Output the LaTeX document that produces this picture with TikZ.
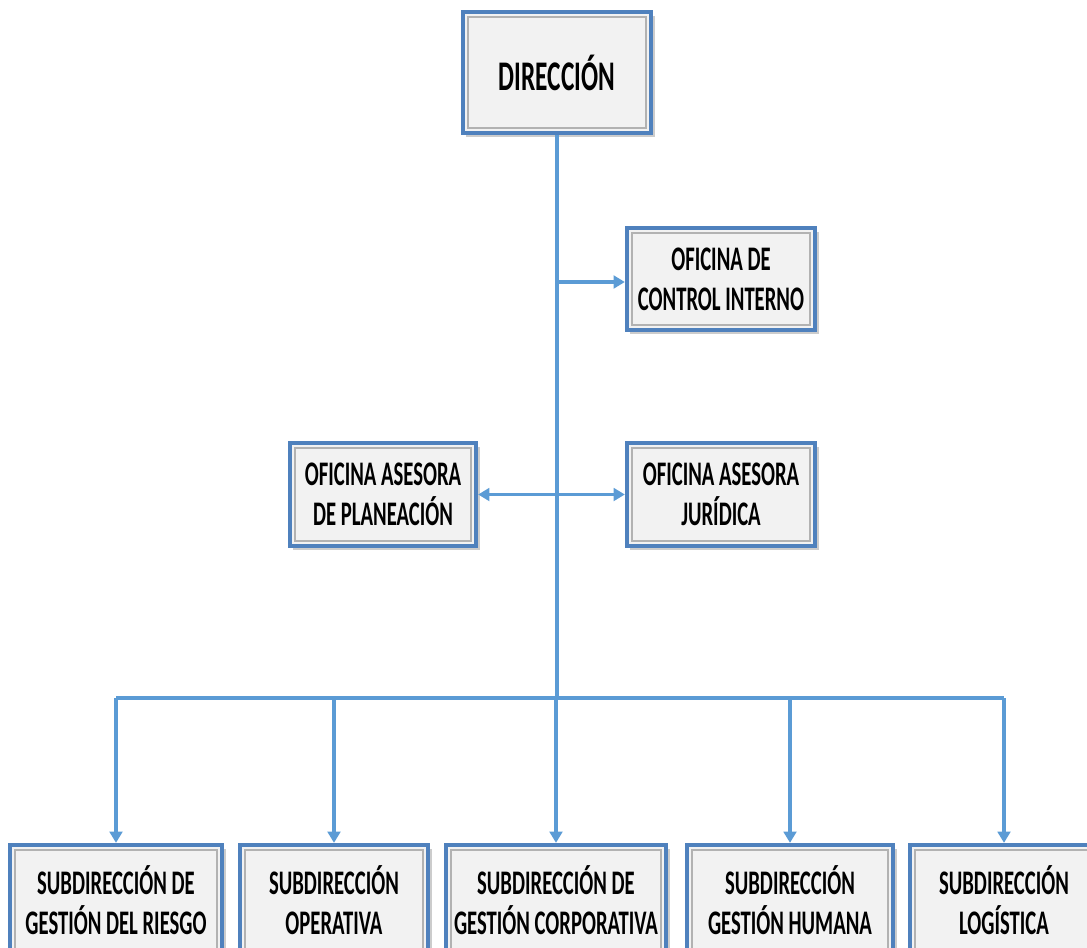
\documentclass[tikz,border=0pt]{standalone}
\usepackage{fontspec}
\setmainfont{Carlito}[FakeStretch=0.6]
\usetikzlibrary{arrows.meta,positioning,shadows}
\definecolor{boxblue}{HTML}{4F81BD}
\definecolor{boxgray}{HTML}{F2F2F2}
\definecolor{linkblue}{HTML}{5B9BD5}

\begin{document}
\begin{tikzpicture}[x=0.025cm, y=-0.025cm, font=\bfseries\fontsize{24.5}{28.5}\selectfont,
  box/.style={draw=boxblue, line width=3pt, fill=boxgray, align=center, minimum width=4.7cm, minimum height=2.575cm,
    drop shadow={shadow xshift=2.5pt, shadow yshift=-2.5pt, opacity=0.4},
    path picture={\draw[gray!60, line width=1.6pt] ([shift={(3.5pt,-3.5pt)}]path picture bounding box.north west) rectangle ([shift={(-3.5pt,3.5pt)}]path picture bounding box.south east);}},
  conn/.style={draw=linkblue, line width=2.8pt},
  tip/.style={-{Triangle[length=8pt, width=9pt]}}]
\useasboundingbox (0,0) rectangle (1087,948);
\clip (0,0) rectangle (1087,948);
\node[box, minimum height=3.025cm, font=\bfseries\fontsize{30}{36}\selectfont] (dir) at (557,72.5) {DIRECCIÓN};
\node[box, minimum height=2.55cm] (ctrl) at (721,279) {OFICINA DE\\CONTROL INTERNO};
\node[box, minimum width=4.65cm] (plan) at (383,494.5) {OFICINA ASESORA\\DE PLANEACIÓN};
\node[box] (jur) at (721,494.5) {OFICINA ASESORA\\JURÍDICA};
\node[box, minimum width=5.3cm, minimum height=2.75cm] (riesgo) at (116,900) {SUBDIRECCIÓN DE\\GESTIÓN DEL RIESGO};
\node[box, minimum height=2.75cm] (oper) at (334,900) {SUBDIRECCIÓN\\OPERATIVA};
\node[box, minimum width=5.5cm, minimum height=2.75cm] (corp) at (556,900) {SUBDIRECCIÓN DE\\GESTIÓN CORPORATIVA};
\node[box, minimum width=5.15cm, minimum height=2.75cm] (humana) at (790,900) {SUBDIRECCIÓN\\GESTIÓN HUMANA};
\node[box, minimum height=2.75cm] (logis) at (1004,900) {SUBDIRECCIÓN\\LOGÍSTICA};
\coordinate (bus) at (557,698);
\draw[conn] (dir.south) -- (bus); \draw[conn] (riesgo.north |- bus) -- (logis.north |- bus);
\draw[conn, tip] (dir.south |- 0,282) -- (ctrl.west |- 0,282);
\draw[conn, {Triangle[length=8pt, width=9pt]}-{Triangle[length=8pt, width=9pt]}] (plan.east) -- (jur.west);
\foreach \s in {riesgo,oper,corp,humana,logis} \draw[conn, tip] (\s.north |- bus) -- (\s.north);
\end{tikzpicture}
\end{document}
